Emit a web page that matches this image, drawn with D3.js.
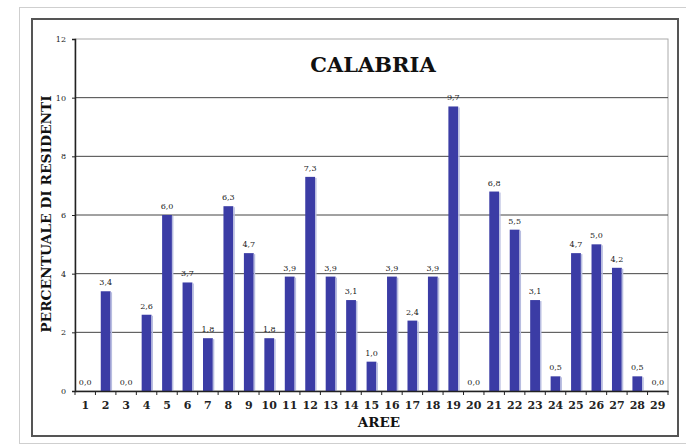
<!DOCTYPE html>
<html><head><meta charset="utf-8">
<script src="https://cdn.jsdelivr.net/npm/d3@7"></script>
<style>body{margin:0;background:#fff;}svg{display:block;}</style>
</head><body>
<svg id="c" width="686" height="445"></svg>
<script>
const categories = d3.range(1, 30).map(String);
const values = [0.0,3.4,0.0,2.6,6.0,3.7,1.8,6.3,4.7,1.8,3.9,7.3,3.9,3.1,1.0,3.9,2.4,3.9,9.7,0.0,6.8,5.5,3.1,0.5,4.7,5.0,4.2,0.5,0.0];
const yTicks = [0,2,4,6,8,10,12];
const title = "CALABRIA";
const yTitle = "PERCENTUALE DI RESIDENTI";
const xTitle = "AREE";

const svg = d3.select("#c");
const serif = "'DejaVu Serif', serif";
// outer frames
svg.append("rect").attr("x",19.5).attr("y",7.5).attr("width",690).attr("height",436).attr("fill","none").attr("stroke","#cfcfcf").attr("stroke-width",1);
svg.append("rect").attr("x",32).attr("y",19).attr("width",646).attr("height",417).attr("fill","#fff").attr("stroke","#555").attr("stroke-width",2);

const L=75, R=668, T=39, B=391;
const x = d3.scaleBand().domain(categories).range([L,R]).paddingInner(0.52).paddingOuter(0.26);
const xb = d3.scaleBand().domain(categories).range([L,R]);
const y = d3.scaleLinear().domain([0,12]).range([B,T]);

// plot border
svg.append("rect").attr("x",L).attr("y",T).attr("width",R-L).attr("height",B-T).attr("fill","none").attr("stroke","#aaa").attr("stroke-width",1);
// gridlines
svg.append("g").selectAll("line").data(yTicks.filter(t=>t>0&&t<12)).join("line")
  .attr("x1",L).attr("x2",R).attr("y1",d=>y(d)).attr("y2",d=>y(d)).attr("stroke","#444").attr("stroke-width",1);

// bars
svg.append("g").selectAll("rect").data(values).join("rect")
  .attr("x",(d,i)=>x(categories[i])).attr("width",x.bandwidth())
  .attr("y",d=>y(d)).attr("height",d=>B-y(d)).attr("fill","#3b3ca5");
svg.append("g").selectAll("rect").data(values).join("rect")
  .attr("x",(d,i)=>x(categories[i])+x.bandwidth()).attr("width",1.5)
  .attr("y",d=>y(d)+1).attr("height",d=>Math.max(0,B-y(d)-1)).attr("fill","#b8bde0");

// value labels
svg.append("g").selectAll("text").data(values).join("text")
  .attr("x",(d,i)=>xb(categories[i])+xb.bandwidth()/2).attr("y",d=>y(d)-6)
  .attr("text-anchor","middle").attr("font-family",serif).attr("font-size",8).attr("fill","#222")
  .text(d=>d3.format(".1f")(d).replace(".",","));

// y axis
const ya = svg.append("g").attr("transform",`translate(${L},0)`)
  .call(d3.axisLeft(y).tickValues(yTicks).tickSize(3).tickPadding(6).tickFormat(d=>d));
ya.select(".domain").attr("stroke","#222").attr("stroke-width",1.5);
ya.selectAll("line").attr("stroke","#222");
ya.selectAll("text").attr("font-family",serif).attr("font-size",8).attr("fill","#222");

// x axis
const xa = svg.append("g").attr("transform",`translate(0,${B})`)
  .call(d3.axisBottom(xb).tickSize(0).tickPadding(10));
xa.select(".domain").attr("stroke","#222").attr("stroke-width",1.5);
xa.selectAll("text").attr("font-family",serif).attr("font-size",11).attr("font-weight","bold").attr("fill","#222");
svg.append("g").selectAll("line").data(categories.concat(["end"])).join("line")
  .attr("x1",(d,i)=>L+i*xb.bandwidth()).attr("x2",(d,i)=>L+i*xb.bandwidth())
  .attr("y1",B).attr("y2",B+4).attr("stroke","#222");

// titles
svg.append("text").attr("x",373).attr("y",72).attr("text-anchor","middle")
  .attr("font-family",serif).attr("font-weight","bold").attr("font-size",21).attr("fill","#111").text(title);
svg.append("text").attr("transform",`translate(51,214) rotate(-90)`).attr("text-anchor","middle")
  .attr("font-family",serif).attr("font-weight","bold").attr("font-size",13.8).attr("fill","#111").text(yTitle);
svg.append("text").attr("x",379).attr("y",427).attr("text-anchor","middle")
  .attr("font-family",serif).attr("font-weight","bold").attr("font-size",13.5).attr("fill","#111").text(xTitle);
</script>
</body></html>
